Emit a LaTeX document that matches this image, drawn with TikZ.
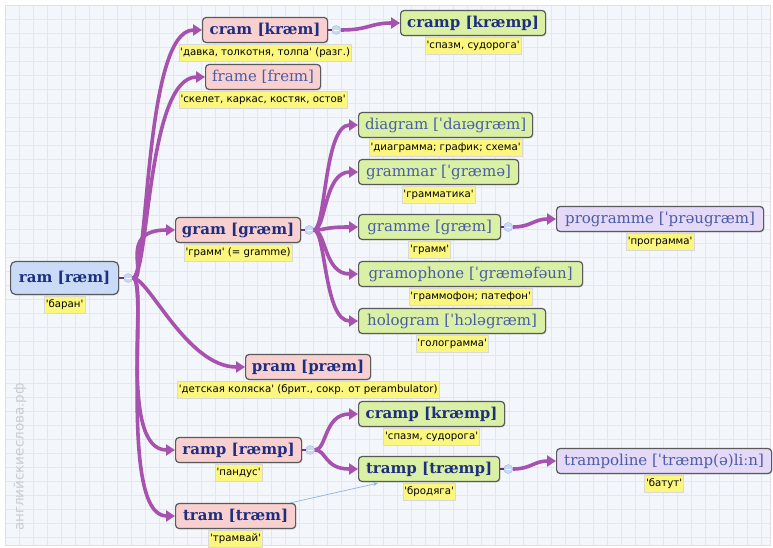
\documentclass[tikz,border=0pt]{standalone}
\usepackage{fontspec}
\setmainfont{DejaVu Sans}
\newfontfamily\wordfont{DejaVu Serif}
\usetikzlibrary{arrows.meta,shadows}
\newcommand\q{\textquotesingle}
\definecolor{bgc}{HTML}{F3F6FA}
\definecolor{gridc}{HTML}{E2E8F0}
\definecolor{pinkc}{HTML}{F9D0D0}
\definecolor{greenc}{HTML}{DAF0A5}
\definecolor{bluec}{HTML}{C9DBF6}
\definecolor{lavc}{HTML}{E4D9F6}
\definecolor{yelc}{HTML}{FBF67E}
\definecolor{linkc}{HTML}{A652AE}
\definecolor{stubc}{HTML}{6E3275}
\definecolor{boldtxt}{HTML}{1E2F80}
\definecolor{regtxt}{HTML}{4A5DA6}
\definecolor{edgec}{HTML}{5A5A5A}
\definecolor{markc}{HTML}{C6DAF4}
\definecolor{wmc}{HTML}{C8CDD4}
\definecolor{thinc}{HTML}{8DB4E6}
\tikzset{
  word/.style={draw=edgec, line width=1.2pt, rounded corners=3.5pt, minimum height=25pt,
    inner sep=2pt, anchor=west, text=regtxt,
    drop shadow={opacity=0.15, shadow xshift=1pt, shadow yshift=-1pt},
    font=\wordfont\fontsize{15}{18}\selectfont},
  bw/.style={word, text=boldtxt, font=\wordfont\bfseries\fontsize{15}{18}\selectfont},
  rw/.style={word},
  gloss/.style={fill=yelc, draw=black!15, line width=0.4pt, inner sep=1.5pt, anchor=north,
    minimum height=17pt, font=\fontsize{10.2}{12}\selectfont, yshift=-1pt},
  markdot/.style={circle, fill=markc, draw=markc!80!blue, line width=0.3pt, minimum size=9pt, inner sep=0pt,
    path picture={\draw[white, line width=0.8pt] ([xshift=-2.5pt]path picture bounding box.center) -- ([xshift=2.5pt]path picture bounding box.center);}},
  stub/.style={draw=stubc, line width=2pt},
  link/.style={draw=linkc, line width=3.6pt, -{Triangle[length=9pt,width=11pt]}},
  thinlink/.style={draw=thinc, line width=0.7pt, -{Stealth[length=5pt,width=4pt]}},
}
\begin{document}
\begin{tikzpicture}[x=1pt,y=-1pt]
\useasboundingbox (0,0) rectangle (773,548);
\fill[white] (0,0) rectangle (773,548);
\fill[bgc] (5,5) rectangle (770,545);
\begin{scope}
\clip (5,5) rectangle (770,545);
\foreach \i in {0,...,55} { \draw[gridc, line width=0.5pt] (5+\i*14,5) -- (5+\i*14,545); }
\foreach \i in {0,...,39} { \draw[gridc, line width=0.5pt] (5,5+\i*14) -- (770,5+\i*14); }
\end{scope}
\draw[black!12, line width=0.6pt] (5,5) rectangle (770,545);

% watermark
\node[rotate=90, text=wmc, font=\fontsize{13.5}{15}\selectfont] (wm) at (20,457) {английскиеслова.рф};

% nodes
\node[bw, fill=bluec, minimum width=108pt, minimum height=33pt, rounded corners=5pt,
      font=\wordfont\bfseries\fontsize{15}{18}\selectfont] (ram) at (10,278) {ram [ræm]};
\node[gloss] (g-ram) at (ram.south) {\q баран\q};

\node[bw, fill=pinkc, minimum width=125pt] (cram) at (202,30) {cram [kræm]};
\node[gloss] (g-cram) at (cram.south) {\q давка, толкотня, толпа\q\ (разг.)};

\node[bw, fill=greenc, minimum width=145pt] (cramp1) at (400,23) {cramp [kræmp]};
\node[gloss] (g-cramp1) at (cramp1.south) {\q спазм, судорога\q};

\node[rw, fill=pinkc, minimum width=115pt] (frame) at (205,77) {frame [freɪm]};
\node[gloss] (g-frame) at (frame.south) {\q скелет, каркас, костяк, остов\q};

\node[rw, fill=greenc, minimum width=174pt] (diagram) at (358,125) {diagram [ˈdaɪəgræm]};
\node[gloss] (g-diagram) at (diagram.south) {\q диаграмма; график; схема\q};

\node[rw, fill=greenc, minimum width=160pt] (grammar) at (358,172) {grammar [ˈgræmə]};
\node[gloss] (g-grammar) at (grammar.south) {\q грамматика\q};

\node[bw, fill=pinkc, minimum width=125pt] (gram) at (175,230) {gram [græm]};
\node[gloss] (g-gram) at (gram.south) {\q грамм\q\ (= gramme)};

\node[rw, fill=greenc, minimum width=142pt] (gramme) at (358,227) {gramme [græm]};
\node[gloss] (g-gramme) at (gramme.south) {\q грамм\q};

\node[rw, fill=lavc, minimum width=207pt] (programme) at (556,219) {programme [ˈprəugræm]};
\node[gloss] (g-programme) at (programme.south) {\q программа\q};

\node[rw, fill=greenc, minimum width=224pt] (gramophone) at (358,274) {gramophone [ˈgræməfəun]};
\node[gloss] (g-gramophone) at (gramophone.south) {\q граммофон; патефон\q};

\node[rw, fill=greenc, minimum width=187pt] (hologram) at (358,321) {hologram [ˈhɔləgræm]};
\node[gloss] (g-hologram) at (hologram.south) {\q голограмма\q};

\node[bw, fill=pinkc, minimum width=125pt] (pram) at (245,367) {pram [præm]};
\node[gloss] (g-pram) at (pram.south) {\q детская коляска\q\ (брит., сокр. от perambulator)};

\node[bw, fill=pinkc, minimum width=126pt] (ramp) at (175,450) {ramp [ræmp]};
\node[gloss] (g-ramp) at (ramp.south) {\q пандус\q};

\node[bw, fill=greenc, minimum width=146pt] (cramp2) at (358,414) {cramp [kræmp]};
\node[gloss] (g-cramp2) at (cramp2.south) {\q спазм, судорога\q};

\node[bw, fill=greenc, minimum width=141pt] (tramp) at (358,469) {tramp [træmp]};
\node[gloss] (g-tramp) at (tramp.south) {\q бродяга\q};

\node[rw, fill=lavc, minimum width=215pt] (trampoline) at (556,461) {trampoline [ˈtræmp(ə)liːn]};
\node[gloss] (g-trampoline) at (trampoline.south) {\q батут\q};

\node[bw, fill=pinkc, minimum width=120pt] (tram) at (175,516) {tram [træm]};
\node[gloss] (g-tram) at (tram.south) {\q трамвай\q};

% markers
\node[markdot] (m-ram) at ([xshift=9pt]ram.east) {};
\node[markdot] (m-cram) at ([xshift=8pt]cram.east) {};
\node[markdot] (m-gram) at ([xshift=8pt]gram.east) {};
\node[markdot] (m-gramme) at ([xshift=7pt]gramme.east) {};
\node[markdot] (m-ramp) at ([xshift=8pt]ramp.east) {};
\node[markdot] (m-tramp) at ([xshift=8pt]tramp.east) {};
\foreach \a in {ram,cram,gram,gramme,ramp,tramp} { \draw[stub] (\a.east) -- (m-\a.west); }

% links from ram
\foreach \c in {cram,frame,gram,pram,ramp,tram} {
  \draw[link] (m-ram.east) .. controls +(16,0) and ([xshift=-58pt]\c.west) .. (\c.west);
}
% links from gram
\foreach \c in {diagram,grammar,gramme,gramophone,hologram} {
  \draw[link] (m-gram.east) .. controls +(12,0) and ([xshift=-34pt]\c.west) .. (\c.west);
}
% links from ramp
\foreach \c in {cramp2,tramp} {
  \draw[link] (m-ramp.east) .. controls +(12,0) and ([xshift=-34pt]\c.west) .. (\c.west);
}
\draw[link] (m-cram.east) .. controls +(28,0) and ([xshift=-30pt]cramp1.west) .. (cramp1.west);
\draw[link] (m-gramme.east) .. controls +(18,0) and ([xshift=-22pt]programme.west) .. (programme.west);
\draw[link] (m-tramp.east) .. controls +(18,0) and ([xshift=-22pt]trampoline.west) .. (trampoline.west);

% thin link
\draw[thinlink] ([xshift=-6pt]tram.north east) -- ([xshift=20pt,yshift=-1pt]tramp.south west);
\end{tikzpicture}
\end{document}
